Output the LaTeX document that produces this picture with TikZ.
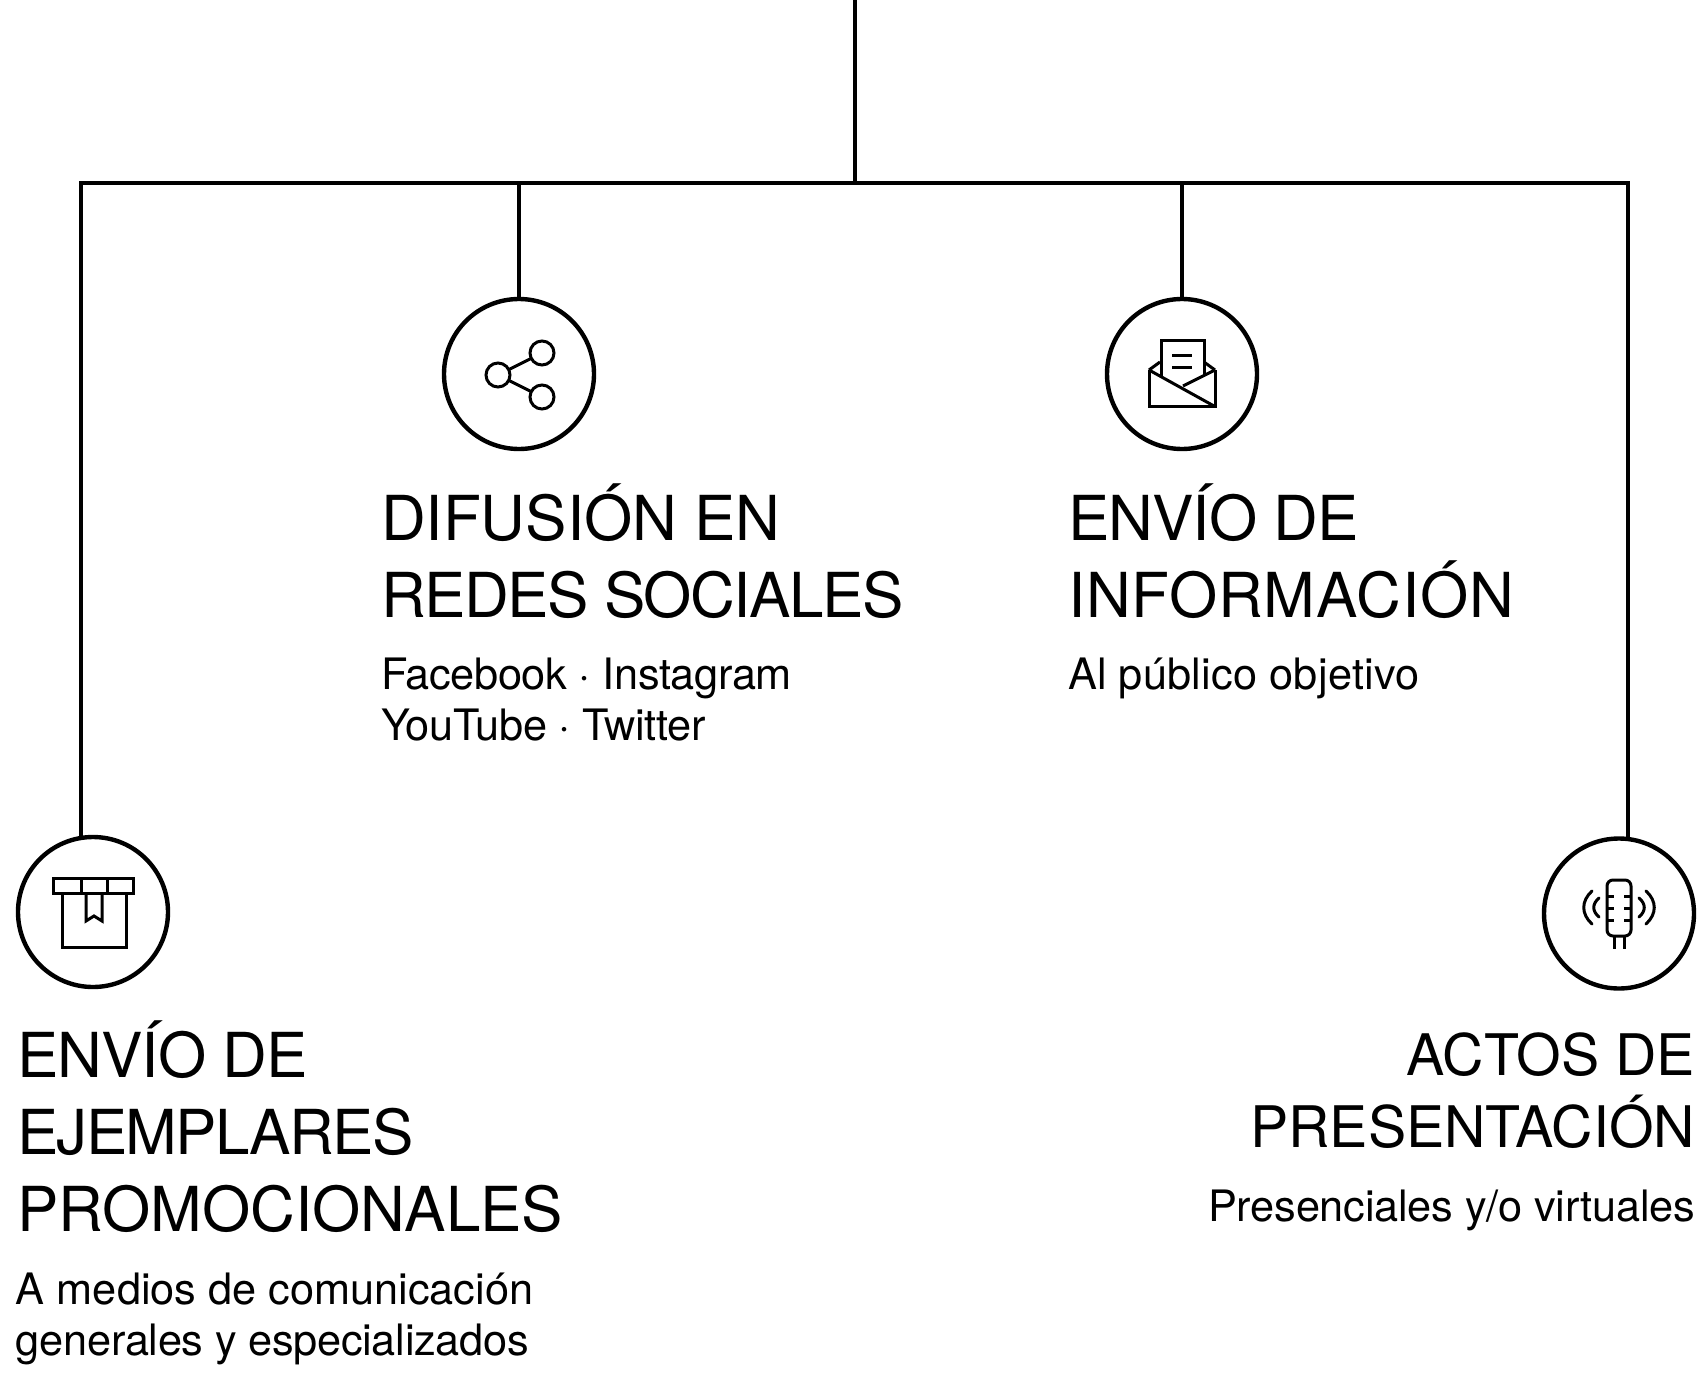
\documentclass[tikz,border=0pt]{standalone}
\usepackage{fontspec}
\setmainfont{TeX Gyre Heros}
\newcommand{\ls}[2]{{\addfontfeature{LetterSpace=#1}#2}}
\tikzset{
  conn/.style={line width=4.4pt,black},
  hub/.style={circle,draw=black,line width=4.4pt,fill=white,minimum size=150pt,inner sep=0pt,outer sep=0pt},
  ico/.style={line width=3pt,black,line join=miter},
  dot/.style={circle,draw=black,line width=3pt,minimum size=24pt,inner sep=0pt,outer sep=0pt},
  head/.style={inner sep=0pt,outer sep=0pt,align=left,font=\fontsize{62}{77}\selectfont},
  sub/.style={inner sep=0pt,outer sep=0pt,align=left,font=\fontsize{43.3}{51}\selectfont},
}
\begin{document}
\begin{tikzpicture}[x=1pt,y=-1pt]
\useasboundingbox (0,0) rectangle (1697,1378);
% hubs
\node[hub] (box) at (93,912) {};
\node[hub] (mic) at (1619,913.5) {};
\node[hub] (share) at (519,374) {};
\node[hub] (mail) at (1182,374) {};
% connectors
\coordinate (top) at (855,0);
\coordinate (jc) at (855,183);
\coordinate (jl) at (81,183);
\coordinate (jr) at (1628,183);
\draw[conn] (top) -- (jc);
\draw[conn,line join=miter] (box.north -| jl) -- (jl) -- (jr) -- (mic.north -| jr);
\draw[conn] (share.north) -- (share.north |- jc);
\draw[conn] (mail.north) -- (mail.north |- jc);
% box icon
\draw[ico] (53.5,878) rectangle (133,893);
\draw[ico] (81,878) -- (81,893) (107,878) -- (107,893);
\draw[ico] (62,893) -- (62,947) -- (126,947) -- (126,893);
\draw[ico] (86,893) -- (86,921) -- (94,916) -- (102,921) -- (102,893);
% mic icon
\draw[ico,rounded corners=6pt] (1607,880) rectangle (1631,936);
\draw[ico] (1607,896) -- (1614,896) (1607,908) -- (1614,908) (1607,920) -- (1614,920);
\draw[ico] (1624,896) -- (1631,896) (1624,908) -- (1631,908) (1624,920) -- (1631,920);
\draw[ico] (1614,936) -- (1614,949) (1624,936) -- (1624,949);
\draw[ico,line cap=round] (1599,898) .. controls (1592,904) and (1592,911) .. (1599,917);
\draw[ico,line cap=round] (1592,891) .. controls (1581,901) and (1581,914) .. (1592,924);
\draw[ico,line cap=round] (1639,898) .. controls (1646,904) and (1646,911) .. (1639,917);
\draw[ico,line cap=round] (1646,891) .. controls (1657,901) and (1657,914) .. (1646,924);
% share icon
\node[dot] (sl) at (498,375) {};
\node[dot] (st) at (542,353) {};
\node[dot] (sb) at (542,397) {};
\draw[ico] (sl) -- (st);
\draw[ico] (sl) -- (sb);
% mail icon
\draw[ico] (1149,370) -- (1149,406) -- (1215,406) -- (1215,370);
\draw[ico] (1149,370) -- (1160,362) (1215,370) -- (1204,362);
\draw[ico] (1161,376) -- (1161,340) -- (1204,340) -- (1204,376);
\draw[ico] (1149,370) -- (1214,406);
\draw[ico] (1183,386) -- (1215,370);
\draw[ico] (1172,355) -- (1192,355) (1172,367) -- (1192,367);
% texts
\node[head,anchor=north west] (t1) at (381,483.5) {DIFUSIÓN EN\\\ls{-2.5}{REDES SOCIALES}};
\node[sub,anchor=north west] (s1) at (381,658) {\ls{-0.8}{Facebook · Instagram}\\\ls{-0.75}{YouTube · Twitter}};
\node[head,anchor=north west] (t2) at (1068,483.5) {\ls{-1.4}{ENVÍO DE}\\\ls{1.4}{INFORMACIÓN}};
\node[sub,anchor=north west] (s2) at (1068,658) {\ls{0.5}{Al público objetivo}};
\node[head,anchor=north west] (t3) at (17,1020.5) {\ls{-1.5}{ENVÍO DE}\\\ls{-2.6}{EJEMPLARES}\\PROMOCIONALES};
\node[sub,anchor=north west] (s3) at (16,1273) {A medios de comunicación\\\ls{-0.7}{generales y especializados}};
\node[head,anchor=north east,align=right,font=\fontsize{57.3}{72}\selectfont] (t4) at (1695,1033) {ACTOS DE\\PRESENTACIÓN};
\node[sub,anchor=north east,align=right] (s4) at (1695,1190) {\ls{-0.5}{Presenciales y/o virtuales}};
\end{tikzpicture}
\end{document}
